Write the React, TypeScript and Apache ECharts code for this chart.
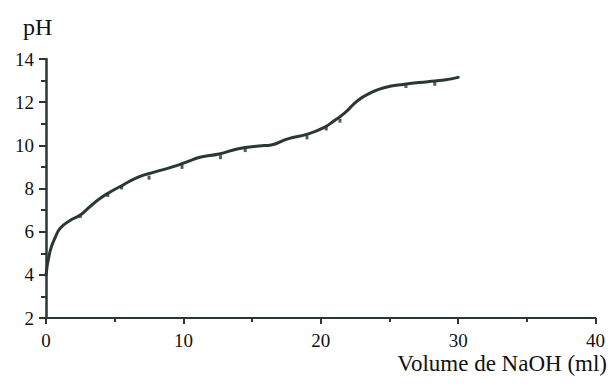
import React, { useEffect, useRef } from "react";
import * as echarts from "echarts";

const volume = [0, 0.3, 0.7, 1.05, 1.8, 2.5, 3.2, 3.95, 4.7, 5.6, 6.8, 8.0, 9.2, 10.4, 11.2, 12.6, 14.0, 15.5, 16.4, 17.6, 19.1, 20.3, 21.0, 21.75, 22.7, 23.7, 24.6, 26.1, 27.8, 29.0, 30.0];
const ph = [4.0, 5.1, 5.77, 6.17, 6.54, 6.77, 7.16, 7.55, 7.85, 8.16, 8.55, 8.78, 9.0, 9.27, 9.45, 9.6, 9.84, 9.97, 10.02, 10.3, 10.53, 10.85, 11.15, 11.5, 12.08, 12.45, 12.67, 12.83, 12.95, 13.03, 13.15];

const measuredVolume = [2.5, 4.5, 5.5, 7.5, 9.9, 12.7, 14.5, 19.0, 20.4, 21.4, 26.2, 28.3];
const measuredPh = [6.73, 7.7, 8.05, 8.5, 9.0, 9.45, 9.78, 10.37, 10.78, 11.14, 12.75, 12.85];

const xTicks = [0, 10, 20, 30, 40];
const yTicks = [2, 4, 6, 8, 10, 12, 14];

const INK = "#2b3636";
const TEXT = "#111111";
const FONT = "Liberation Serif";

export default function App() {
  const ref = useRef<HTMLDivElement>(null);
  useEffect(() => {
    if (!ref.current) return;
    const chart = echarts.init(ref.current, undefined, { renderer: "svg" });
    chart.setOption({
      animation: false,
      backgroundColor: "#ffffff",
      grid: { left: 46, right: 9, top: 59, bottom: 67 },
      xAxis: {
        type: "value",
        min: xTicks[0],
        max: xTicks[xTicks.length - 1],
        interval: 10,
        axisLine: { show: true, onZero: false, lineStyle: { color: INK, width: 2 } },
        axisTick: { show: true, length: 6, lineStyle: { color: INK, width: 2 } },
        minorTick: { show: true, splitNumber: 2, length: 4, lineStyle: { color: INK, width: 2 } },
        splitLine: { show: false },
        axisLabel: { color: TEXT, fontFamily: FONT, fontSize: 19, margin: 13 },
      },
      yAxis: {
        type: "value",
        min: yTicks[0],
        max: yTicks[yTicks.length - 1],
        interval: 2,
        axisLine: { show: true, onZero: false, lineStyle: { color: INK, width: 2.5 } },
        axisTick: { show: true, length: 7, lineStyle: { color: INK, width: 2 } },
        minorTick: { show: true, splitNumber: 2, length: 5, lineStyle: { color: INK, width: 2 } },
        splitLine: { show: false },
        axisLabel: { color: TEXT, fontFamily: FONT, fontSize: 19, margin: 12 },
      },
      graphic: [
        {
          type: "text",
          left: 23,
          top: 15,
          style: { text: "pH", fill: TEXT, font: `24px "${FONT}"` },
        },
        {
          type: "text",
          right: 1,
          top: 352,
          style: { text: "Volume de NaOH (ml)", fill: TEXT, font: `23px "${FONT}"` },
        },
      ],
      series: [
        {
          type: "line",
          data: volume.map((v, i) => [v, ph[i]]),
          smooth: 0.5,
          showSymbol: false,
          lineStyle: { color: INK, width: 3, cap: "round" },
          z: 3,
        },
        {
          type: "scatter",
          data: measuredVolume.map((v, i) => [v, measuredPh[i]]),
          symbol: "rect",
          symbolSize: [3, 4],
          itemStyle: { color: INK },
          z: 2,
        },
      ],
    });
    return () => chart.dispose();
  }, []);
  return <div ref={ref} style={{ width: 608, height: 385, position: "absolute", left: 0, top: 0 }} />;
}
